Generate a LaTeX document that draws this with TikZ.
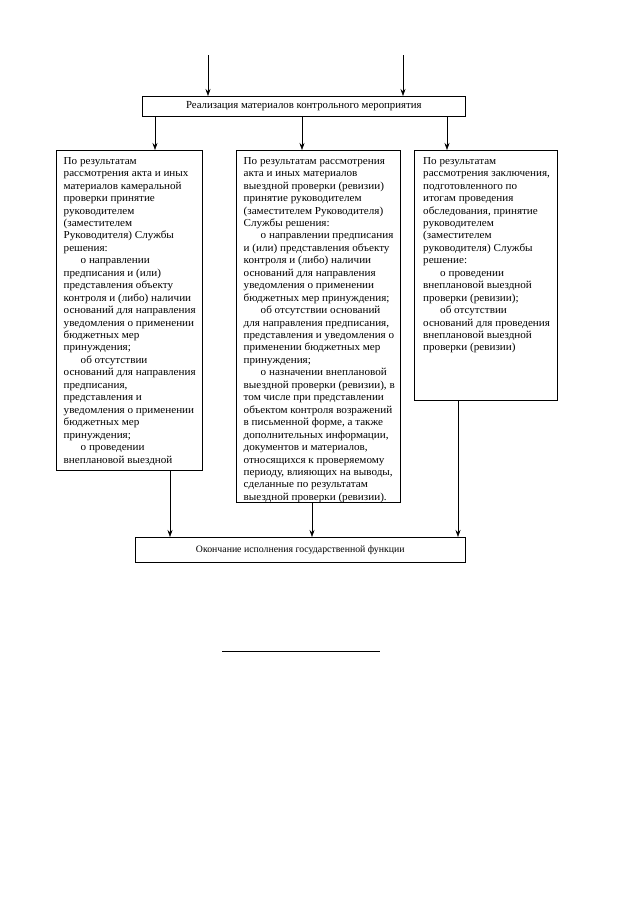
\documentclass[tikz,border=0pt]{standalone}
\usepackage{fontspec}
\setmainfont{Liberation Serif}
\newfontfamily\boxfont[FakeStretch=1.04]{Liberation Serif}
\usetikzlibrary{arrows.meta,calc}
\tikzset{
  box/.style={draw, line width=0.6pt, inner sep=0pt, anchor=north west},
  txt/.style={anchor=north west, align=left, inner sep=0pt, font=\boxfont\fontsize{10.7}{12.45}\selectfont},
  ctxt/.style={inner sep=0pt, font=\fontsize{10.8}{12.45}\selectfont},
  etxt/.style={inner sep=0pt, font=\fontsize{9.8}{12.45}\selectfont},
  arr/.style={line width=0.6pt, -{Stealth[length=7pt,width=5pt]}}
}
\newcommand{\ind}{\hspace*{17pt}}
\begin{document}
\begin{tikzpicture}[x=1pt,y=-1pt]
\useasboundingbox (0,0) rectangle (640,905);
% boxes
\node[box, minimum width=323pt, minimum height=20pt] (T) at (142,96) {};
\node[ctxt] (Tt) at (T.center) {Реализация материалов контрольного мероприятия};
\node[box, minimum width=146pt, minimum height=320pt] (L) at (56,150) {};
\node[box, minimum width=164pt, minimum height=352pt] (M) at (236,150) {};
\node[box, minimum width=143pt, minimum height=250pt] (R) at (414,150) {};
\node[box, minimum width=330pt, minimum height=25pt] (E) at (135,537) {};
\node[etxt] (Et) at (E.center) {Окончание исполнения государственной функции};
% texts
\node[txt] (Lt) at ([shift={(7.5,7)}]L.north west) {По результатам\\
рассмотрения акта и иных\\
материалов камеральной\\
проверки принятие\\
руководителем\\
(заместителем\\
Руководителя) Службы\\
решения:\\
\ind о направлении\\
предписания и (или)\\
представления объекту\\
контроля и (либо) наличии\\
оснований для направления\\
уведомления о применении\\
бюджетных мер\\
принуждения;\\
\ind об отсутствии\\
оснований для направления\\
предписания,\\
представления и\\
уведомления о применении\\
бюджетных мер\\
принуждения;\\
\ind о проведении\\
внеплановой выездной};
\node[txt] (Mt) at ([shift={(7.5,7)}]M.north west) {По результатам рассмотрения\\
акта и иных материалов\\
выездной проверки (ревизии)\\
принятие руководителем\\
(заместителем Руководителя)\\
Службы решения:\\
\ind о направлении предписания\\
и (или) представления объекту\\
контроля и (либо) наличии\\
оснований для направления\\
уведомления о применении\\
бюджетных мер принуждения;\\
\ind об отсутствии оснований\\
для направления предписания,\\
представления и уведомления о\\
применении бюджетных мер\\
принуждения;\\
\ind о назначении внеплановой\\
выездной проверки (ревизии), в\\
том числе при представлении\\
объектом контроля возражений\\
в письменной форме, а также\\
дополнительных информации,\\
документов и материалов,\\
относящихся к проверяемому\\
периоду, влияющих на выводы,\\
сделанные по результатам\\
выездной проверки (ревизии).};
\node[txt] (Rt) at ([shift={(9,7)}]R.north west) {По результатам\\
рассмотрения заключения,\\
подготовленного по\\
итогам проведения\\
обследования, принятие\\
руководителем\\
(заместителем\\
руководителя) Службы\\
решение:\\
\ind о проведении\\
внеплановой выездной\\
проверки (ревизии);\\
\ind об отсутствии\\
оснований для проведения\\
внеплановой выездной\\
проверки (ревизии)};
% incoming arrows
\coordinate (in1) at (208,55);
\coordinate (in2) at (403,55);
\draw[arr] (in1) -- (in1 |- T.north);
\draw[arr] (in2) -- (in2 |- T.north);
% from T to boxes
\path (L.north west) ++(99,0) coordinate (l1);
\path (M.north west) ++(66,0) coordinate (m1);
\path (R.north west) ++(33,0) coordinate (r1);
\draw[arr] (T.south -| l1) -- (l1);
\draw[arr] (T.south -| m1) -- (m1);
\draw[arr] (T.south -| r1) -- (r1);
% to E
\path (L.south west) ++(114,0) coordinate (l2);
\path (M.south west) ++(76,0) coordinate (m2);
\path (R.south west) ++(44,0) coordinate (r2);
\draw[arr] (l2) -- (l2 |- E.north);
\draw[arr] (m2) -- (m2 |- E.north);
\draw[arr] (r2) -- (r2 |- E.north);
% separator line
\coordinate (s1) at (222,651);
\coordinate (s2) at (380,651);
\draw[line width=0.8pt] (s1) -- (s2);
\end{tikzpicture}
\end{document}
